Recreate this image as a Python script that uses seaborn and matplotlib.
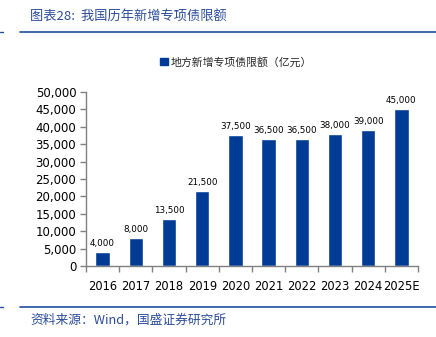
import matplotlib
matplotlib.use("Agg")
import matplotlib.pyplot as plt
import seaborn as sns
import pandas as pd
from matplotlib.lines import Line2D
from matplotlib.patches import Patch
from matplotlib.ticker import FuncFormatter

years = ["2016", "2017", "2018", "2019", "2020", "2021", "2022", "2023", "2024", "2025E"]
values = [4000, 8000, 13500, 21500, 37500, 36500, 36500, 38000, 39000, 45000]
series_name = "地方新增专项债限额（亿元）"
title = "图表28:  我国历年新增专项债限额"
source = "资料来源：Wind，国盛证券研究所"

sns.set_theme(style="white")
plt.rcParams['font.family'] = ['DejaVu Sans', 'Noto Sans CJK SC']

bar_color = "#003C96"
text_blue = "#2B4C9B"

df = pd.DataFrame({"year": years, "value": values})

fig = plt.figure(figsize=(4.36, 3.37), dpi=100)
ax = fig.add_axes([86/436, 1-266/337, (418-86)/436, (266-92)/337])
sns.barplot(data=df, x="year", y="value", color=bar_color, width=0.43,
            saturation=1, ax=ax)

ax.set_ylim(0, 50000)
ax.set_xlim(-0.5, len(years)-0.5)
ax.set_yticks(range(0, 50001, 5000))
ax.yaxis.set_major_formatter(FuncFormatter(lambda v, p: f"{int(v):,}"))
ax.set_xlabel("")
ax.set_ylabel("")
for s in ["top", "right"]:
    ax.spines[s].set_visible(False)
for s in ["left", "bottom"]:
    ax.spines[s].set_color("#808080")
    ax.spines[s].set_linewidth(1.0)
ax.tick_params(axis="y", which="both", left=True, length=4, width=1, color="#808080",
               labelsize=8.5, pad=3, labelcolor="black")
ax.set_xticks(range(len(years)))
ax.set_xticklabels(years)
ax.tick_params(axis="x", which="major", bottom=False, labelsize=8.3, pad=4, labelcolor="black")
ax.set_xticks([i - 0.5 for i in range(len(years) + 1)], minor=True)
ax.tick_params(axis="x", which="minor", bottom=True, length=4, width=1, color="#808080")

for c in ax.containers:
    ax.bar_label(c, labels=[f"{v:,}" for v in values], padding=3, fontsize=6.3, color="black")

# legend
handle = Patch(facecolor=bar_color, edgecolor=bar_color)
fig.legend([handle], [series_name], loc="center", bbox_to_anchor=(236/436, 1-62/337),
           frameon=False, handlelength=0.7, handleheight=0.7,
           handletextpad=0.2, prop={'family': ['Noto Sans CJK SC', 'DejaVu Sans'], 'size': 7.8})

# title and rules
fig.text(30/436, 1-17/337, title, fontsize=9.5, color=text_blue, style="italic",
         va="center", ha="left", family=['Noto Sans CJK SC', 'DejaVu Sans'])
fig.add_artist(Line2D([20/436, 1.0], [1-31.5/337]*2, color="#1F4E9E", lw=1.2,
                      transform=fig.transFigure))
fig.add_artist(Line2D([0, 3/436], [1-31.5/337]*2, color="#1F4E9E", lw=1.0,
                      transform=fig.transFigure))
fig.add_artist(Line2D([20/436, 1.0], [1-307/337]*2, color="#1F4E9E", lw=1.2,
                      transform=fig.transFigure))
fig.add_artist(Line2D([0, 3/436], [1-307/337]*2, color="#1F4E9E", lw=1.0,
                      transform=fig.transFigure))
fig.text(30/436, 1-320/337, source, fontsize=9.2, color=text_blue, style="italic",
         va="center", ha="left", family=['Noto Sans CJK SC', 'DejaVu Sans'])

fig.savefig("out.png", dpi=100, facecolor="white")
